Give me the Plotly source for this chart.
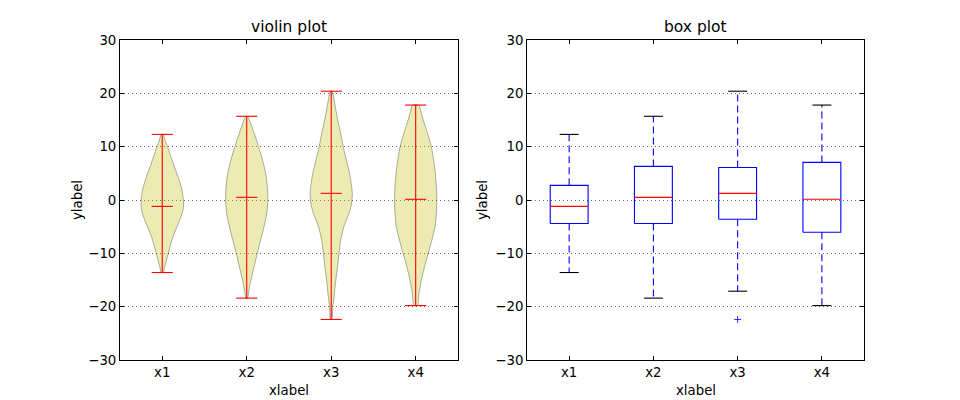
import plotly.graph_objects as go

# ---------------- data ----------------
categories = ["x1", "x2", "x3", "x4"]
positions = [1, 2, 3, 4]

# violin extremes and medians
v_max = [12.3, 15.7, 20.4, 17.8]
v_min = [-13.6, -18.4, -22.4, -19.8]
v_median = [-1.2, 0.5, 1.25, 0.13]

# violin outline profiles: y levels and relative half-width (1 = widest)
prof_y_x1 = [12.3, 11.0, 10.0, 8.0, 6.0, 4.0, 2.0, 0.0, -1.5, -3.0, -5.0, -7.0, -9.0, -11.0, -12.5, -13.6]
prof_w_x1 = [0.05, 0.15, 0.25, 0.42, 0.6, 0.78, 0.93, 1.0, 1.0, 0.9, 0.7, 0.5, 0.35, 0.22, 0.12, 0.05]
prof_y_x2 = [15.7, 14, 12, 10, 7.5, 5, 2.5, 0, -2.5, -5, -7.5, -10, -12.5, -15, -17, -18.4]
prof_w_x2 = [0.04, 0.22, 0.4, 0.56, 0.75, 0.9, 0.98, 1.0, 0.95, 0.82, 0.66, 0.5, 0.35, 0.2, 0.1, 0.04]
prof_y_x3 = [20.4, 18, 15, 12.5, 10, 7.5, 5, 2.5, 1, -1, -2.5, -5, -7.5, -10, -12.5, -15, -18, -20, -22.4]
prof_w_x3 = [0.04, 0.17, 0.31, 0.45, 0.57, 0.72, 0.87, 0.97, 1.0, 0.95, 0.84, 0.6, 0.45, 0.37, 0.3, 0.22, 0.14, 0.08, 0.03]
prof_y_x4 = [17.8, 16.5, 15, 12.5, 10, 7.5, 5, 2.5, 0, -2.5, -5, -7.5, -10, -12.5, -15, -17.5, -19.8]
prof_w_x4 = [0.15, 0.25, 0.36, 0.56, 0.74, 0.85, 0.93, 0.98, 1.0, 0.98, 0.92, 0.77, 0.59, 0.42, 0.27, 0.16, 0.08]

# box plot statistics
box_q1 = [-4.4, -4.4, -3.6, -6.05]
box_median = [-1.2, 0.5, 1.25, 0.13]
box_q3 = [2.75, 6.3, 6.1, 7.05]
whisker_lo = [-13.6, -18.4, -17.1, -19.8]
whisker_hi = [12.3, 15.7, 20.4, 17.8]
flier_pos = [3]
flier_val = [-22.4]

y_ticks = [-30, -20, -10, 0, 10, 20, 30]

# ---------------- styling constants ----------------
VIOLIN_HALF = 0.25   # half of violin width (0.5)
VCAP_HALF = 0.125
BOX_HALF = 0.225
CAP_HALF = 0.1125
FONT = "DejaVu Sans"

fig = go.Figure()

profiles = [(prof_y_x1, prof_w_x1), (prof_y_x2, prof_w_x2),
            (prof_y_x3, prof_w_x3), (prof_y_x4, prof_w_x4)]

# violin bodies
for pos, (py, pw) in zip(positions, profiles):
    xs = [pos + w * VIOLIN_HALF for w in pw] + [pos - w * VIOLIN_HALF for w in reversed(pw)]
    ys = list(py) + list(reversed(py))
    xs.append(xs[0]); ys.append(ys[0])
    fig.add_trace(go.Scatter(x=xs, y=ys, mode="lines", fill="toself",
                             fillcolor="rgba(191,191,0,0.3)",
                             line=dict(color="rgba(0,0,0,0.3)", width=1, shape="spline", smoothing=0.6),
                             xaxis="x", yaxis="y", hoverinfo="skip", showlegend=False))

# violin red lines (bars, extremes, medians)
lx, ly = [], []
for pos, lo, hi, med in zip(positions, v_min, v_max, v_median):
    lx += [pos, pos, None]; ly += [lo, hi, None]
    for val in (lo, hi, med):
        lx += [pos - VCAP_HALF, pos + VCAP_HALF, None]; ly += [val, val, None]
fig.add_trace(go.Scatter(x=lx, y=ly, mode="lines", line=dict(color="#ff0000", width=1.1),
                         xaxis="x", yaxis="y", hoverinfo="skip", showlegend=False))

# box plot: boxes
bx, by = [], []
for pos, q1, q3 in zip(positions, box_q1, box_q3):
    bx += [pos - BOX_HALF, pos + BOX_HALF, pos + BOX_HALF, pos - BOX_HALF, pos - BOX_HALF, None]
    by += [q1, q1, q3, q3, q1, None]
fig.add_trace(go.Scatter(x=bx, y=by, mode="lines", line=dict(color="#0000ff", width=1.1),
                         xaxis="x2", yaxis="y2", hoverinfo="skip", showlegend=False))

# whiskers (dashed)
wx, wy = [], []
for pos, q1, q3, lo, hi in zip(positions, box_q1, box_q3, whisker_lo, whisker_hi):
    wx += [pos, pos, None, pos, pos, None]
    wy += [q3, hi, None, q1, lo, None]
fig.add_trace(go.Scatter(x=wx, y=wy, mode="lines",
                         line=dict(color="#0000ff", width=1.1, dash="7px,4px"),
                         xaxis="x2", yaxis="y2", hoverinfo="skip", showlegend=False))

# caps
cx, cy = [], []
for pos, lo, hi in zip(positions, whisker_lo, whisker_hi):
    cx += [pos - CAP_HALF, pos + CAP_HALF, None, pos - CAP_HALF, pos + CAP_HALF, None]
    cy += [lo, lo, None, hi, hi, None]
fig.add_trace(go.Scatter(x=cx, y=cy, mode="lines", line=dict(color="#000000", width=1.1),
                         xaxis="x2", yaxis="y2", hoverinfo="skip", showlegend=False))

# medians
mx, my = [], []
for pos, med in zip(positions, box_median):
    mx += [pos - BOX_HALF, pos + BOX_HALF, None]; my += [med, med, None]
fig.add_trace(go.Scatter(x=mx, y=my, mode="lines", line=dict(color="#ff0000", width=1.1),
                         xaxis="x2", yaxis="y2", hoverinfo="skip", showlegend=False))

# fliers
fig.add_trace(go.Scatter(x=flier_pos, y=flier_val, mode="markers",
                         marker=dict(symbol="cross-thin", size=5, line=dict(color="#0000ff", width=0.8)),
                         xaxis="x2", yaxis="y2", hoverinfo="skip", showlegend=False))

xaxis_common = dict(range=[0.5, 4.5], tickvals=positions, ticktext=categories,
                    ticks="inside", ticklen=4, tickcolor="black", tickwidth=1,
                    showline=True, linecolor="black", linewidth=1, mirror="ticks",
                    showgrid=False, zeroline=False, automargin=False,
                    tickfont=dict(family=FONT, size=13.3, color="black"))
yaxis_common = dict(range=[-30, 30], tickvals=y_ticks,
                    ticks="inside", ticklen=4, tickcolor="black", tickwidth=1,
                    showline=True, linecolor="black", linewidth=1, mirror="ticks",
                    showgrid=True, gridcolor="#666666", gridwidth=1, griddash="1px,3px",
                    zeroline=False, automargin=False,
                    tickfont=dict(family=FONT, size=13.3, color="black"))

fig.update_layout(
    width=960, height=400,
    margin=dict(l=0, r=0, t=0, b=0, pad=0),
    paper_bgcolor="white", plot_bgcolor="white",
    xaxis=dict(domain=[0.125, 0.477], anchor="y", **xaxis_common),
    yaxis=dict(domain=[0.1, 0.9], anchor="x", **yaxis_common),
    xaxis2=dict(domain=[0.549, 0.9], anchor="y2", **xaxis_common),
    yaxis2=dict(domain=[0.1, 0.9], anchor="x2", **yaxis_common),
    showlegend=False,
)

titles = [("violin plot", (0.125 + 0.477) / 2, 77 / 960), ("box plot", (0.549 + 0.9) / 2, 482 / 960)]
for text, xc, ylab_x in titles:
    fig.add_annotation(text=text, x=xc, y=0.9, xref="paper", yref="paper",
                       xanchor="center", yanchor="bottom", yshift=2, showarrow=False,
                       font=dict(family=FONT, size=15.5, color="black"))
    fig.add_annotation(text="xlabel", x=xc, y=1 - 390 / 400, xref="paper", yref="paper",
                       xanchor="center", yanchor="middle", showarrow=False,
                       font=dict(family=FONT, size=13.3, color="black"))
    fig.add_annotation(text="ylabel", x=ylab_x, y=0.5, xref="paper", yref="paper",
                       xanchor="center", yanchor="middle", textangle=-90, showarrow=False,
                       font=dict(family=FONT, size=13.3, color="black"))

fig.write_html("out.html", config={"displayModeBar": False},
               post_script="document.body.style.margin='0';document.body.style.overflow='hidden';")
